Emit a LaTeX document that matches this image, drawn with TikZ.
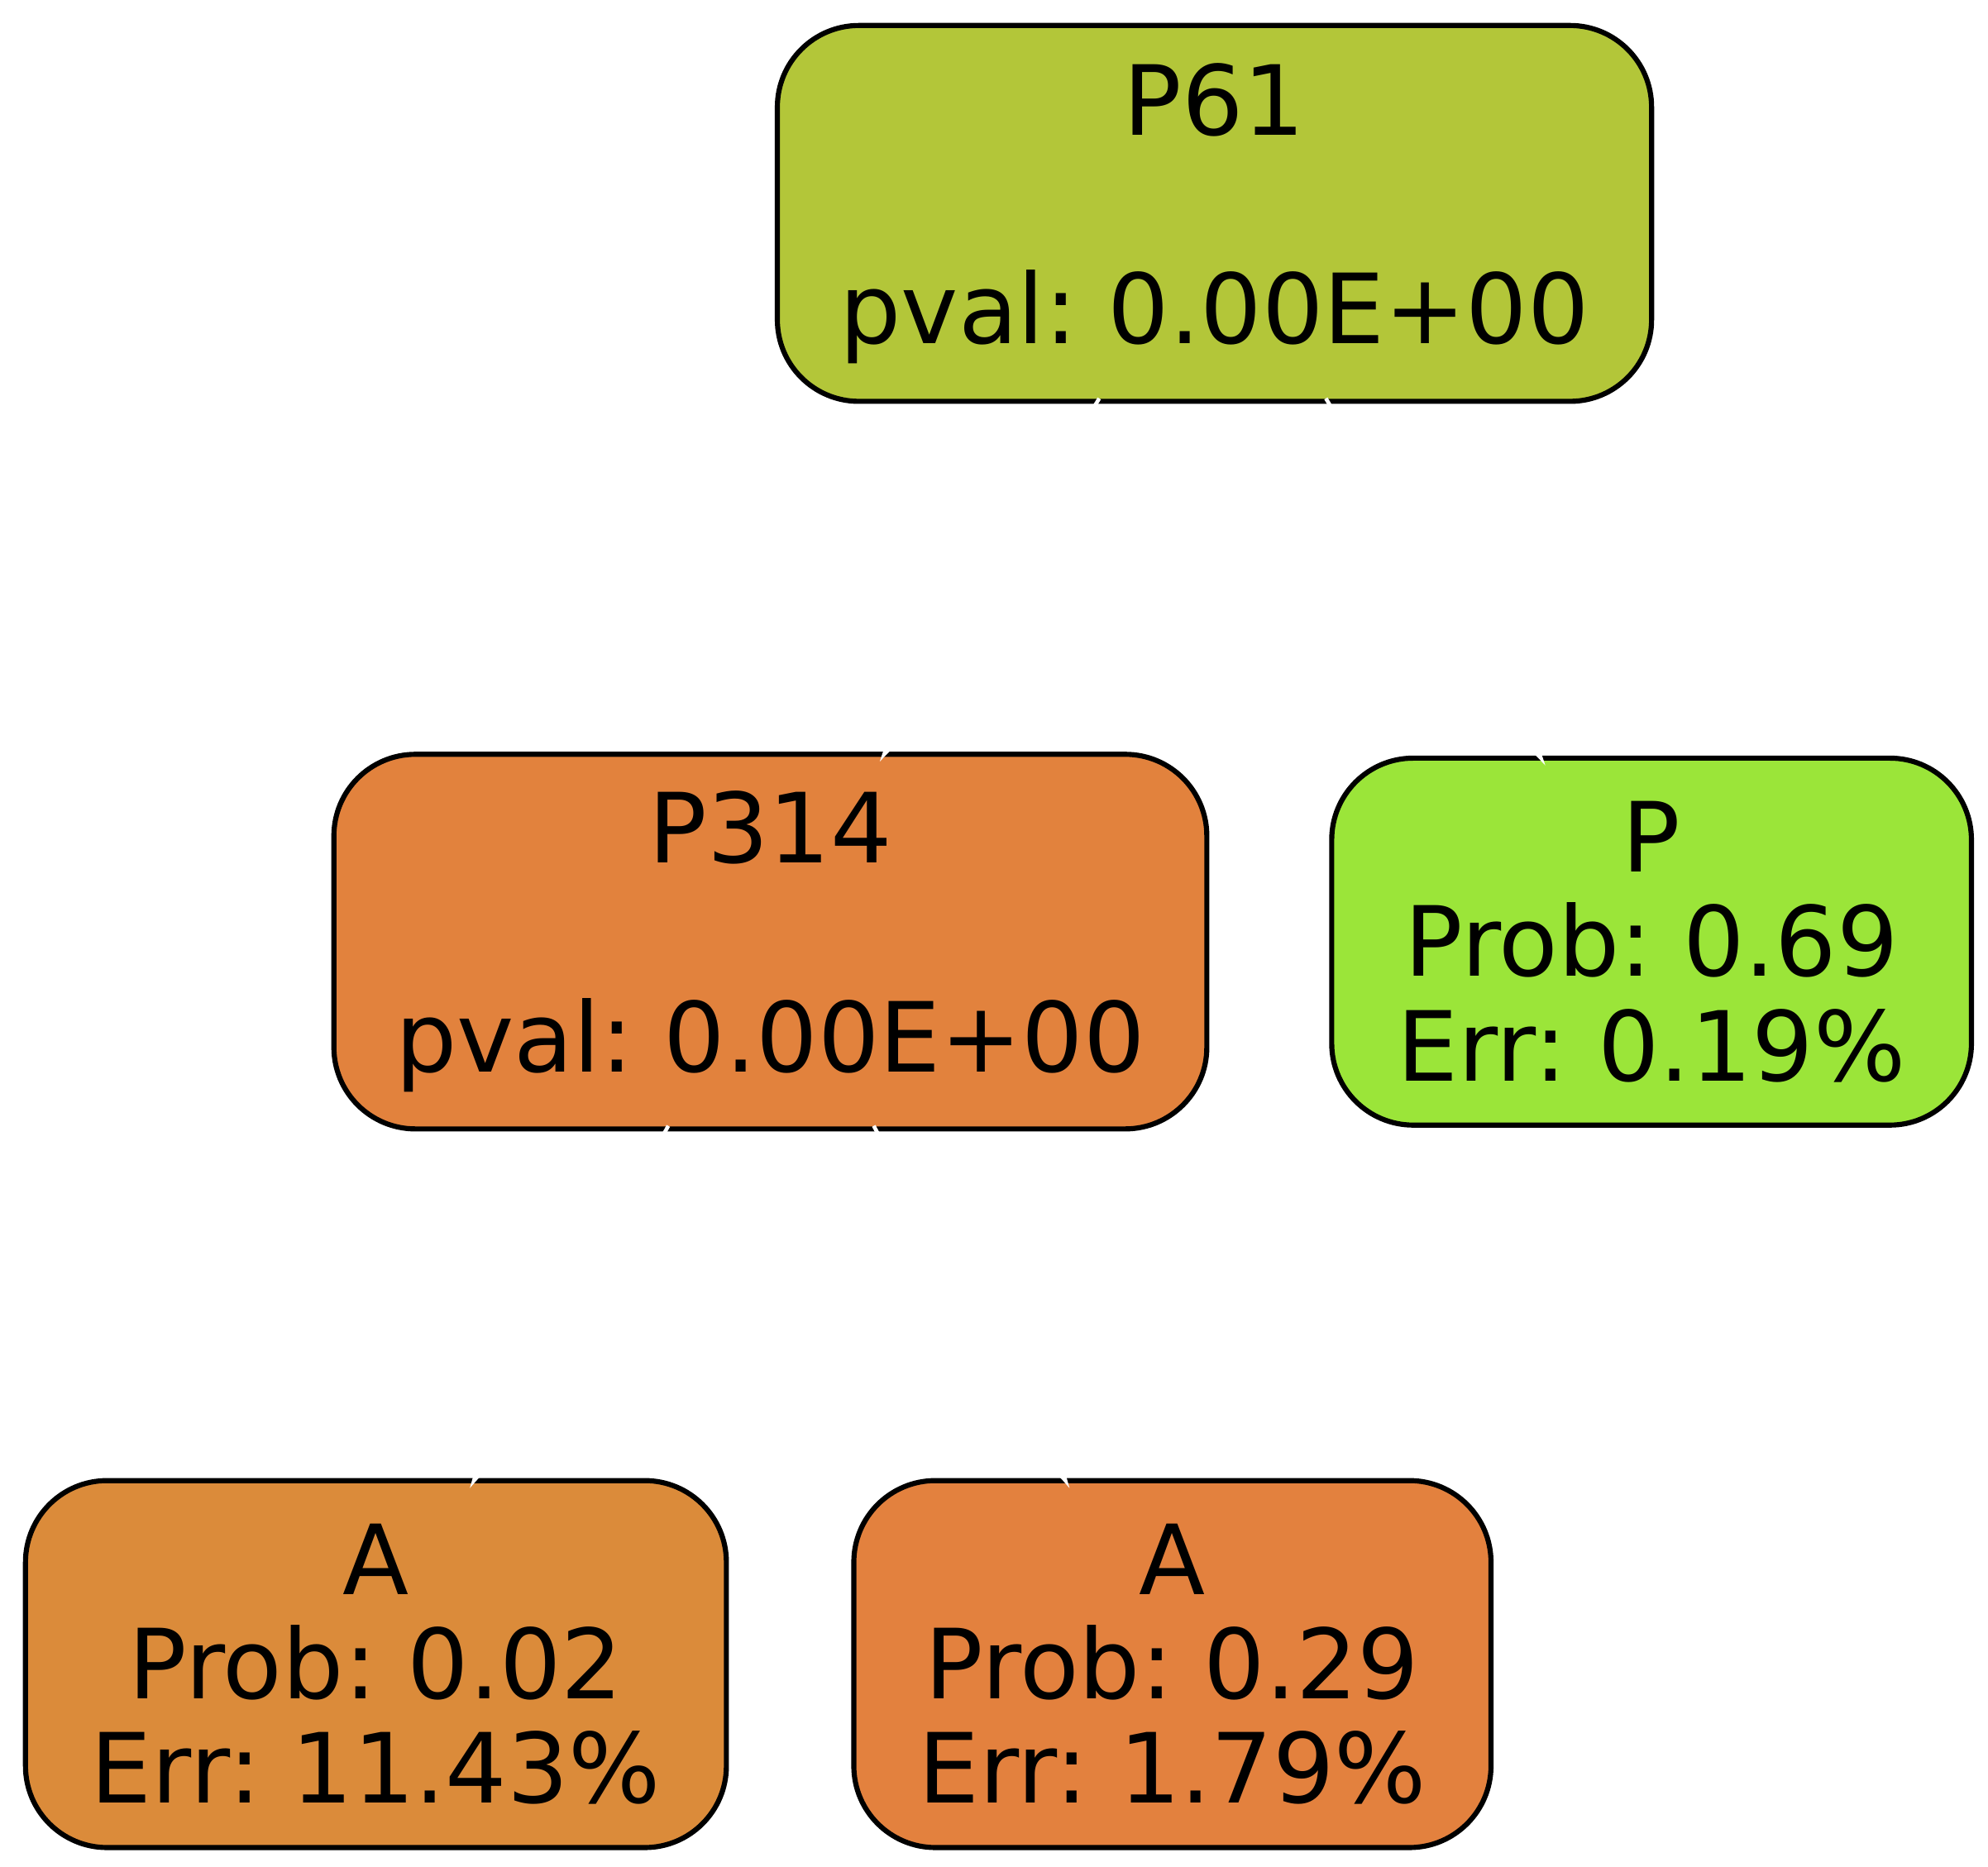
\documentclass[tikz,border=0pt]{standalone}
\usepackage{fontspec}
\setmainfont{DejaVu Sans}
\usetikzlibrary{arrows.meta}
\definecolor{cP61}{RGB}{179,198,57}
\definecolor{cP314}{RGB}{226,130,61}
\definecolor{cP}{RGB}{155,229,57}
\definecolor{cAone}{RGB}{219,139,58}
\definecolor{cAtwo}{RGB}{227,129,62}
\tikzset{
  treebox/.style={draw=black, line width=2pt, rounded corners=32pt, inner sep=0pt,
    align=center, font=\frenchspacing\fontsize{38}{41}\selectfont},
  edgeline/.style={draw=white, line width=1.5pt, -{Latex[length=12pt,width=7pt]}, shorten >=-5pt, shorten <=-2.5pt}
}
\begin{document}
\begin{tikzpicture}[x=0.5pt,y=-0.5pt]
\useasboundingbox (0,0) rectangle (1560,1465);
\node[treebox, fill=cP61, minimum width=343pt, minimum height=147.5pt] (p61) at (953,167.5) {P61\\\mbox{}\\pval: 0.00E+00};
\node[treebox, fill=cP314, minimum width=342.5pt, minimum height=147pt] (p314) at (604.5,739) {P314\\\mbox{}\\pval: 0.00E+00};
\node[treebox, fill=cP, minimum width=251pt, minimum height=144pt] (p) at (1296,739) {P\\Prob: 0.69\\Err: 0.19\%};
\node[treebox, fill=cAone, minimum width=275pt, minimum height=144pt] (a1) at (295,1306) {A\\Prob: 0.02\\Err: 11.43\%};
\node[treebox, fill=cAtwo, minimum width=250pt, minimum height=144pt] (a2) at (920,1306) {A\\Prob: 0.29\\Err: 1.79\%};
\draw[edgeline] ([xshift=-46.5pt]p61.south) -- ([xshift=45.25pt]p314.north);
\draw[edgeline] ([xshift=45pt]p61.south) -- ([xshift=-44pt]p.north);
\draw[edgeline] ([xshift=-41.25pt]p314.south) -- ([xshift=39pt]a1.north);
\draw[edgeline] ([xshift=41.75pt]p314.south) -- ([xshift=-42.5pt]a2.north);
\end{tikzpicture}
\end{document}
